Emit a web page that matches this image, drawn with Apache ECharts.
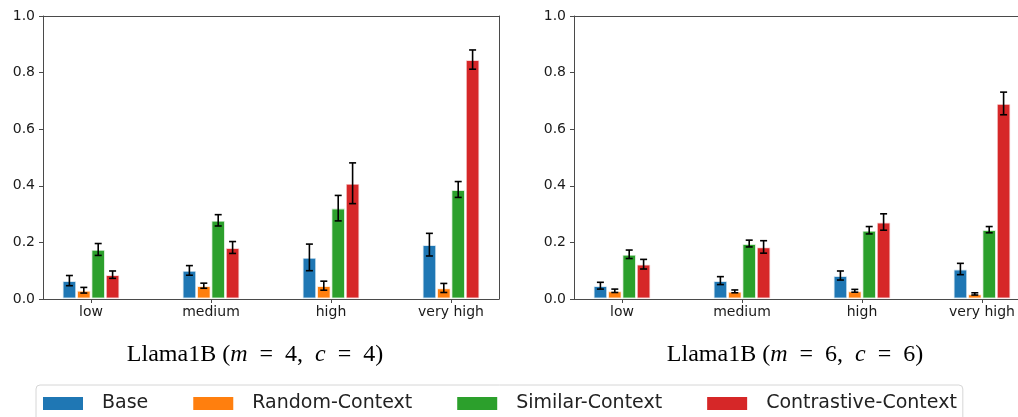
<!DOCTYPE html>
<html>
<head>
<meta charset="UTF-8">
<title>Llama1B</title>
<script src="https://cdn.jsdelivr.net/npm/echarts@6/dist/echarts.min.js"></script>
<style>
body{margin:0;background:#fff;}
#main{width:1018px;height:417px;}
</style>
</head>
<body>
<div id="main"></div>
<script type="text/javascript">
var cats = ['low', 'medium', 'high', 'very high'];
var names = ['Base', 'Random-Context', 'Similar-Context', 'Contrastive-Context'];
var colors = ['#1f77b4', '#ff7f0e', '#2ca02c', '#d62728'];

// Llama1B (m = 4, c = 4)
var m4Base = [0.065, 0.101, 0.147, 0.192];
var m4BaseErr = [0.018, 0.017, 0.047, 0.040];
var m4Random = [0.031, 0.047, 0.047, 0.039];
var m4RandomErr = [0.010, 0.009, 0.016, 0.016];
var m4Similar = [0.175, 0.278, 0.321, 0.387];
var m4SimilarErr = [0.021, 0.020, 0.045, 0.028];
var m4Contrast = [0.086, 0.182, 0.409, 0.846];
var m4ContrastErr = [0.013, 0.021, 0.072, 0.034];

// Llama1B (m = 6, c = 6)
var m6Base = [0.047, 0.065, 0.083, 0.106];
var m6BaseErr = [0.012, 0.014, 0.016, 0.020];
var m6Random = [0.029, 0.027, 0.029, 0.018];
var m6RandomErr = [0.006, 0.005, 0.005, 0.004];
var m6Similar = [0.158, 0.196, 0.243, 0.245];
var m6SimilarErr = [0.015, 0.012, 0.013, 0.011];
var m6Contrast = [0.123, 0.184, 0.272, 0.691];
var m6ContrastErr = [0.017, 0.022, 0.029, 0.040];

var panels = [
	{ vals: [m4Base, m4Random, m4Similar, m4Contrast], errs: [m4BaseErr, m4RandomErr, m4SimilarErr, m4ContrastErr], m: '4', left: 43, right: 519, titleX: 255 },
	{ vals: [m6Base, m6Random, m6Similar, m6Contrast], errs: [m6BaseErr, m6RandomErr, m6SimilarErr, m6ContrastErr], m: '6', left: 574, right: -12, titleX: 795 }
];

var BAR_UNIT = 0.12;   // bar width in x units
var PX_PER_UNIT = 120; // 456px / 3.8 units
var tickFont = 'DejaVu Sans';
var lineCol = '#4a4a4a';

var grids = [], xAxes = [], yAxes = [], series = [], graphics = [];

panels.forEach(function (p, gi) {
	grids.push({
		left: p.left, right: p.right, top: 16, height: 283,
		show: false,
		outerBoundsMode: 'none', containLabel: false
	});
	xAxes.push({
		type: 'value', gridIndex: gi, min: -0.4, max: 3.4,
		axisLine: { show: true, onZero: false, lineStyle: { color: lineCol, width: 1 } },
		axisTick: { show: true, length: 4, customValues: [0, 1, 2, 3], lineStyle: { color: lineCol } },
		axisLabel: {
			customValues: [0, 1, 2, 3], margin: 6, hideOverlap: false,
			fontFamily: tickFont, fontSize: 14, color: '#1a1a1a',
			formatter: function (v) { return cats[Math.round(v)]; }
		},
		splitLine: { show: false }
	});
	yAxes.push({
		type: 'value', gridIndex: gi, min: 0, max: 1, interval: 0.2,
		axisLine: { show: true, onZero: false, lineStyle: { color: lineCol, width: 1 } },
		axisTick: { show: true, length: 4, lineStyle: { color: lineCol } },
		axisLabel: {
			margin: 8, fontFamily: tickFont, fontSize: 14, color: '#1a1a1a',
			formatter: function (v) { return v.toFixed(1); }
		},
		splitLine: { show: false }
	});
	// top and right spines
	xAxes.push({
		type: 'value', gridIndex: gi, position: 'top', min: -0.4, max: 3.4,
		axisLine: { show: true, onZero: false, lineStyle: { color: lineCol, width: 1 } },
		axisTick: { show: false }, axisLabel: { show: false }, splitLine: { show: false }
	});
	yAxes.push({
		type: 'value', gridIndex: gi, position: 'right', min: 0, max: 1,
		axisLine: { show: true, onZero: false, lineStyle: { color: lineCol, width: 1 } },
		axisTick: { show: false }, axisLabel: { show: false }, splitLine: { show: false }
	});
	var xi = gi * 2, yi = gi * 2;
	p.vals.forEach(function (arr, s) {
		series.push({
			name: names[s], type: 'bar', xAxisIndex: xi, yAxisIndex: yi,
			barWidth: BAR_UNIT * PX_PER_UNIT, barGap: '0%',
			itemStyle: { color: colors[s], borderColor: 'rgba(255,255,255,0.75)', borderWidth: 1.4 },
			data: arr.map(function (v, i) { return [i, v]; }),
			z: 2
		});
	});
	// error bars
	var errData = [];
	p.vals.forEach(function (arr, s) {
		arr.forEach(function (v, i) {
			errData.push([i + (s - 1.5) * BAR_UNIT, v, p.errs[s][i]]);
		});
	});
	series.push({
		name: 'err' + gi, type: 'custom', xAxisIndex: xi, yAxisIndex: yi, z: 5,
		silent: true,
		renderItem: function (params, api) {
			var x = api.value(0), y = api.value(1), e = api.value(2);
			var top = api.coord([x, y + e]);
			var bot = api.coord([x, y - e]);
			var st = { stroke: '#000', lineWidth: 1.6 };
			return {
				type: 'group',
				children: [
					{ type: 'line', shape: { x1: top[0], y1: top[1], x2: bot[0], y2: bot[1] }, style: st },
					{ type: 'line', shape: { x1: top[0] - 3.5, y1: top[1], x2: top[0] + 3.5, y2: top[1] }, style: st },
					{ type: 'line', shape: { x1: bot[0] - 3.5, y1: bot[1], x2: bot[0] + 3.5, y2: bot[1] }, style: st }
				]
			};
		},
		data: errData
	});
	// panel caption
	var serif = 'Liberation Serif';
	graphics.push({
		type: 'text', x: p.titleX, y: 355,
		style: {
			text: '{n|Llama1B (}{i|m}{n|\u2002=\u2002' + p.m + ',\u2002}{i|c}{n|\u2002=\u2002' + p.m + ')}',
			align: 'center', verticalAlign: 'middle',
			rich: {
				n: { fontFamily: serif, fontSize: 24, fill: '#000', color: '#000' },
				i: { fontFamily: serif, fontSize: 24, fontStyle: 'italic', fill: '#000', color: '#000' }
			}
		}
	});
});

var myChart = echarts.init(document.getElementById('main'));
myChart.setOption({
	animation: false,
	backgroundColor: '#fff',
	grid: grids,
	xAxis: xAxes,
	yAxis: yAxes,
	legend: {
		data: names, left: 36, top: 385,
		padding: [9, 6, 14, 7],
		borderColor: '#d6d6d6', borderWidth: 1, borderRadius: 4,
		backgroundColor: '#fff',
		icon: 'rect', itemWidth: 40, itemHeight: 13, itemGap: 45,
		itemStyle: { borderWidth: 0 },
		formatter: function (n) { return '{t|' + n + '}'; },
		textStyle: {
			rich: { t: { fontFamily: tickFont, fontSize: 19, color: '#222', padding: [0, 0, 0, 14] } }
		}
	},
	graphic: graphics,
	series: series
});
</script>
</body>
</html>
